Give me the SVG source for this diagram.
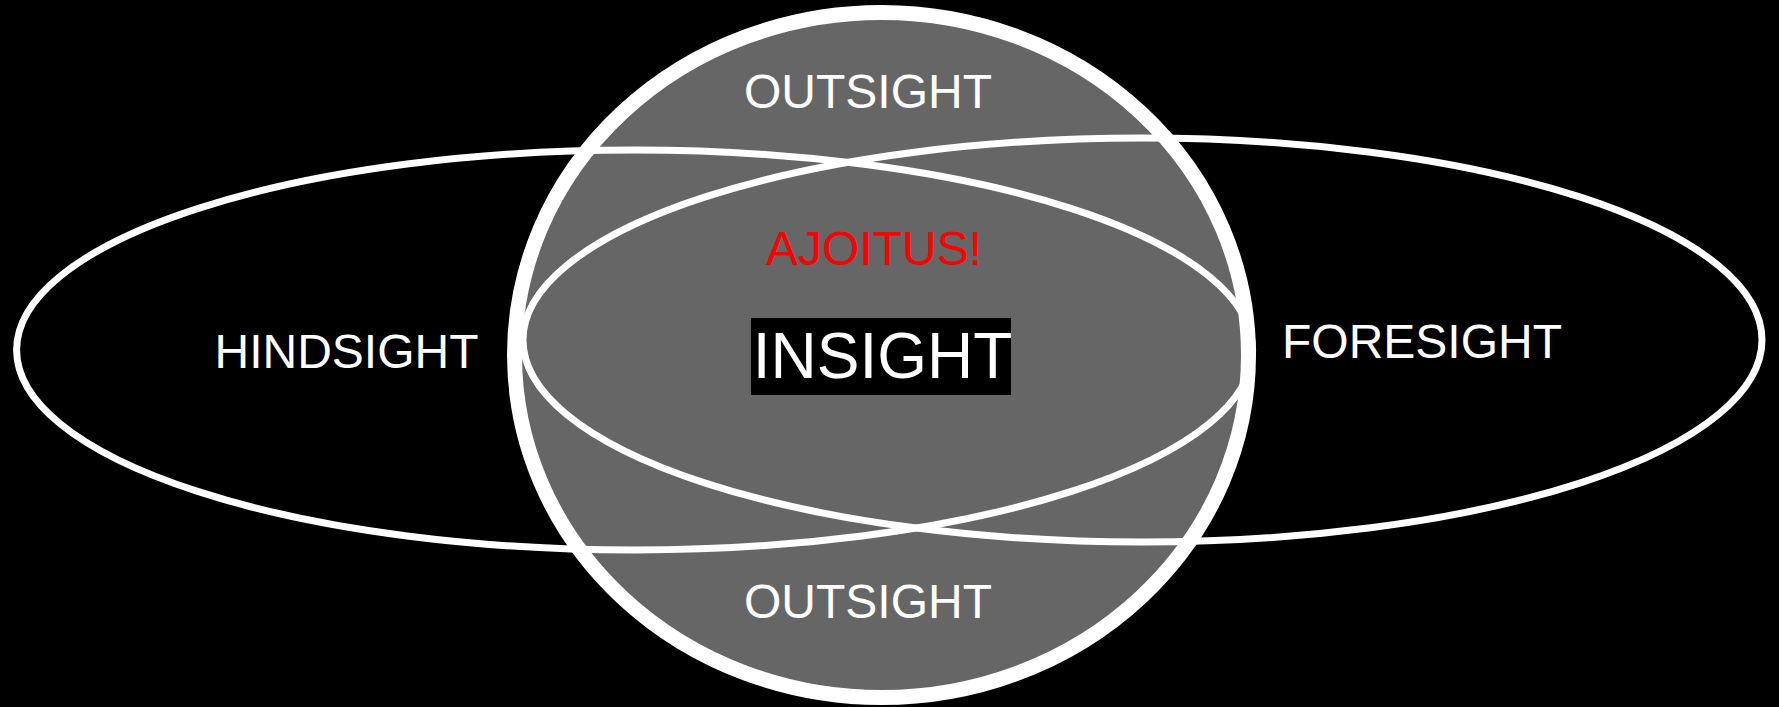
<svg xmlns="http://www.w3.org/2000/svg" width="1779" height="707" viewBox="0 0 1779 707">
<style>
.lbl{font-family:"Liberation Sans",Arial,sans-serif;font-size:48px;fill:#ffffff;text-anchor:middle}
.ring{fill:none;stroke:#ffffff;stroke-width:7}
</style>
<rect x="0" y="0" width="1779" height="707" fill="#000000"/>
<g id="outsight">
<ellipse cx="881.5" cy="355" rx="367" ry="342.5" fill="#666666" stroke="#ffffff" stroke-width="15"/>
<text class="lbl" x="868" y="108">OUTSIGHT</text>
<text class="lbl" x="868" y="618">OUTSIGHT</text>
</g>
<g id="hindsight">
<ellipse class="ring" cx="634.6" cy="350" rx="618" ry="200"/>
<text class="lbl" x="346.5" y="368">HINDSIGHT</text>
</g>
<g id="foresight">
<ellipse class="ring" cx="1142.5" cy="340" rx="619.5" ry="202"/>
<text class="lbl" x="1422" y="358">FORESIGHT</text>
</g>
<g id="ajoitus">
<text class="lbl" x="874" y="265" style="fill:#ff0000">AJOITUS!</text>
</g>
<g id="insight">
<rect x="751" y="318" width="260" height="77" fill="#000000"/>
<text class="lbl" x="882.5" y="378" style="font-size:64px">INSIGHT</text>
</g>
<g id="connectors"/>
</svg>
